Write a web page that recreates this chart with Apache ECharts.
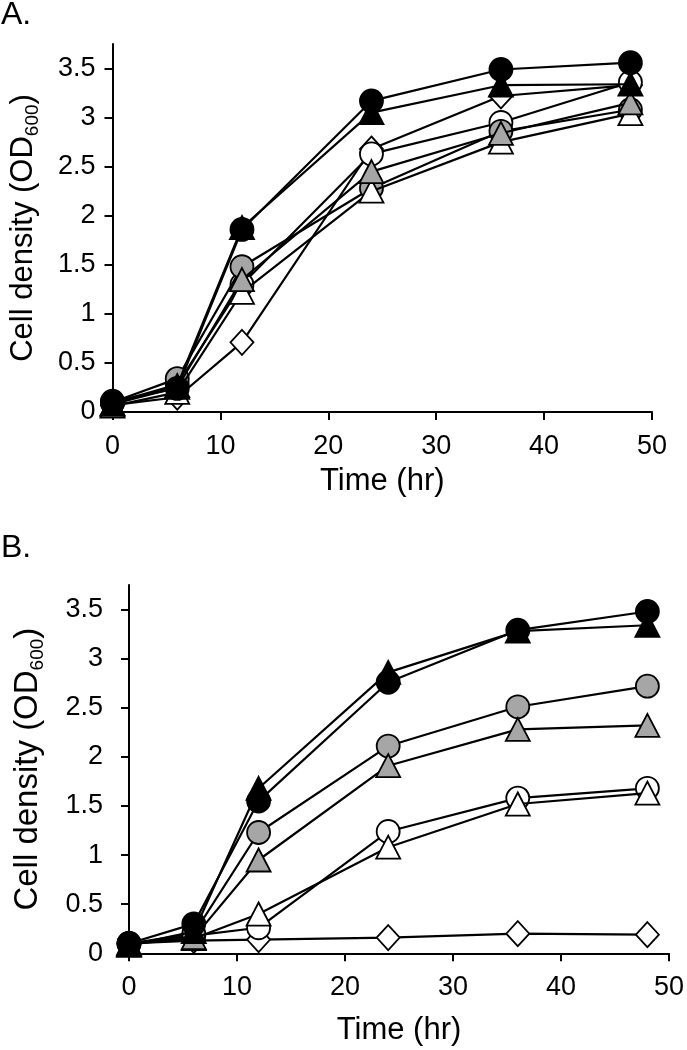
<!DOCTYPE html>
<html>
<head>
<meta charset="utf-8">
<script src="https://cdn.jsdelivr.net/npm/echarts@6/dist/echarts.min.js"></script>
<style>
html,body{margin:0;padding:0;background:#fff;}
#chart{width:687px;height:1050px;}
</style>
</head>
<body>
<div id="chart"></div>
<script>
// Sampling times (hr)
var times = [0, 6, 12, 24, 36, 48];
var yTicks = [0, 0.5, 1, 1.5, 2, 2.5, 3, 3.5];
var xTicks = [0, 10, 20, 30, 40, 50];

// Panel A
var aBlackCircle   = [0.11, 0.24, 1.86, 3.17, 3.49, 3.56];
var aBlackTriangle = [0.08, 0.27, 1.88, 3.05, 3.33, 3.34];
var aOpenCircle    = [0.09, 0.28, 1.30, 2.63, 2.95, 3.36];
var aOpenTriangle  = [0.06, 0.20, 1.22, 2.25, 2.75, 3.04];
var aGrayCircle    = [0.10, 0.34, 1.48, 2.28, 2.86, 3.08];
var aGrayTriangle  = [0.08, 0.25, 1.35, 2.45, 2.84, 3.15];
var aOpenDiamond   = [0.07, 0.15, 0.71, 2.68, 3.22, 3.33];

// Panel B
var bBlackCircle   = [0.10, 0.30, 1.55, 2.76, 3.29, 3.48];
var bBlackTriangle = [0.08, 0.22, 1.68, 2.86, 3.28, 3.34];
var bGrayCircle    = [0.10, 0.20, 1.23, 2.11, 2.51, 2.72];
var bGrayTriangle  = [0.09, 0.16, 0.95, 1.91, 2.28, 2.32];
var bOpenCircle    = [0.10, 0.18, 0.26, 1.24, 1.58, 1.68];
var bOpenTriangle  = [0.10, 0.15, 0.40, 1.08, 1.52, 1.63];
var bOpenDiamond   = [0.10, 0.13, 0.14, 0.16, 0.20, 0.19];

var FONT = 'Liberation Sans, Arial, sans-serif';
var GRAY = '#a6a6a6';

function pts(vals){ return times.map(function(t,i){ return [t, vals[i]]; }); }

function mkSeries(name, vals, symbol, fill, panel, z){
  var size = symbol === 'circle' ? 23 : (symbol === 'diamond' ? [23, 25] : [24, 23]);
  return {
    name: name, type: 'line', data: pts(vals),
    xAxisIndex: panel, yAxisIndex: panel,
    symbol: symbol, symbolSize: size, showAllSymbol: true,
    lineStyle: {color: '#000', width: 2.2},
    itemStyle: {color: fill, borderColor: '#000', borderWidth: 1.8, opacity: 1},
    z: z, animation: false, silent: true
  };
}

function yAxisCfg(grid, labelMargin, nameGap, nameSize){
  return {
    type: 'value', gridIndex: grid, min: 0, max: 3.75, interval: 0.5,
    splitLine: {show: false},
    axisLine: {show: true, lineStyle: {color: '#000', width: 2}},
    axisTick: {show: true, length: 8, lineStyle: {color: '#000', width: 2}, customValues: yTicks},
    axisLabel: {color: '#000', fontSize: 27, fontFamily: FONT, margin: labelMargin, customValues: yTicks},
    name: '{n|Cell density (OD}{s|600}{n|)}',
    nameLocation: 'middle', nameGap: nameGap,
    nameTextStyle: {
      color: '#000', fontFamily: FONT,
      rich: {
        n: {fontSize: nameSize, fontFamily: FONT, color: '#000', lineHeight: 38},
        s: {fontSize: 19, fontFamily: FONT, color: '#000', lineHeight: 19, verticalAlign: 'bottom'}
      }
    }
  };
}

function xAxisCfg(grid, nameGap){
  return {
    type: 'value', gridIndex: grid, min: 0, max: 50, interval: 10,
    splitLine: {show: false},
    axisLine: {show: true, onZero: false, lineStyle: {color: '#000', width: 2}},
    axisTick: {show: true, length: 8, lineStyle: {color: '#000', width: 2}, customValues: xTicks},
    axisLabel: {color: '#000', fontSize: 27, fontFamily: FONT, margin: 21, customValues: xTicks},
    name: 'Time (hr)', nameLocation: 'middle', nameGap: nameGap,
    nameTextStyle: {color: '#000', fontSize: 31, fontFamily: FONT}
  };
}

var option = {
  backgroundColor: '#fff',
  animation: false,
  grid: [
    {left: 110, top: 44, width: 542, height: 368},
    {left: 129, top: 585, width: 542.5, height: 368.3}
  ],
  xAxis: [xAxisCfg(0, 54), xAxisCfg(1, 62)],
  yAxis: [yAxisCfg(0, 17, 70, 31), yAxisCfg(1, 26, 82, 33)],
  graphic: [
    {type: 'text', left: 1, top: -1, style: {text: 'A.', fontSize: 32, fontFamily: FONT, fill: '#000'}},
    {type: 'text', left: 1, top: 532, style: {text: 'B.', fontSize: 32, fontFamily: FONT, fill: '#000'}}
  ],
  series: [
    mkSeries('A diamond', aOpenDiamond, 'diamond', '#fff', 0, 2),
    mkSeries('A open circle', aOpenCircle, 'circle', '#fff', 0, 3),
    mkSeries('A gray circle', aGrayCircle, 'circle', GRAY, 0, 4),
    mkSeries('A open triangle', aOpenTriangle, 'triangle', '#fff', 0, 5),
    mkSeries('A gray triangle', aGrayTriangle, 'triangle', GRAY, 0, 6),
    mkSeries('A black triangle', aBlackTriangle, 'triangle', '#000', 0, 7),
    mkSeries('A black circle', aBlackCircle, 'circle', '#000', 0, 8),

    mkSeries('B diamond', bOpenDiamond, 'diamond', '#fff', 1, 2),
    mkSeries('B open circle', bOpenCircle, 'circle', '#fff', 1, 3),
    mkSeries('B gray circle', bGrayCircle, 'circle', GRAY, 1, 4),
    mkSeries('B open triangle', bOpenTriangle, 'triangle', '#fff', 1, 5),
    mkSeries('B gray triangle', bGrayTriangle, 'triangle', GRAY, 1, 6),
    mkSeries('B black triangle', bBlackTriangle, 'triangle', '#000', 1, 7),
    mkSeries('B black circle', bBlackCircle, 'circle', '#000', 1, 8)
  ]
};

var chart = echarts.init(document.getElementById('chart'), null, {renderer: 'canvas'});
chart.setOption(option);
</script>
</body>
</html>
